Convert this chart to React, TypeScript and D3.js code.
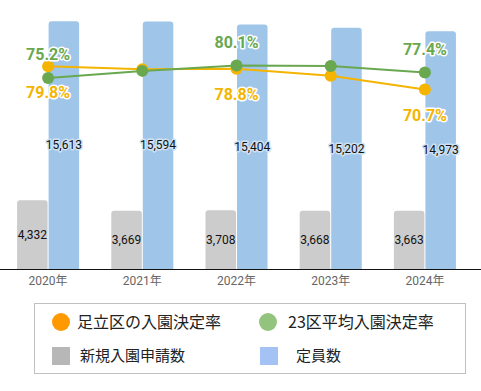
import { useEffect, useRef } from 'react'
import * as d3 from 'd3'

const years = ['2020年', '2021年', '2022年', '2023年', '2024年']
const applicants = [4332, 3669, 3708, 3668, 3663]
const capacity = [15613, 15594, 15404, 15202, 14973]
const adachiRate = [79.8, 78.6, 78.8, 76.1, 70.7]
const wardAvgRate = [75.2, 78.0, 80.1, 79.9, 77.4]
const labeledIdx = [0, 2, 4]

const legendItems = [
  { label: '足立区の入園決定率', shape: 'circle', color: '#ff9900' },
  { label: '23区平均入園決定率', shape: 'circle', color: '#93c47d' },
  { label: '新規入園申請数', shape: 'square', color: '#b7b7b7' },
  { label: '定員数', shape: 'square', color: '#a4c2f4' },
]

const FONT = "Roboto, 'Noto Sans CJK JP', sans-serif"

// bar with rounded top corners
function topRounded(x: number, y: number, w: number, h: number, r: number) {
  r = Math.min(r, w / 2, h)
  return `M${x},${y + h}V${y + r}Q${x},${y} ${x + r},${y}H${x + w - r}Q${x + w},${y} ${x + w},${y + r}V${y + h}Z`
}

export default function App() {
  const ref = useRef<HTMLDivElement>(null)

  useEffect(() => {
    document.body.style.margin = '0'
    const width = 481
    const height = 391
    const baseY = 269

    d3.select(ref.current).selectAll('*').remove()
    const svg = d3.select(ref.current)
      .append('svg')
      .attr('width', width)
      .attr('height', height)
      .style('display', 'block')
      .style('font-family', FONT)

    const x0 = d3.scaleBand().domain(years).range([1, 472])
    const x1 = d3.scaleBand().domain(['app', 'cap']).range([0, x0.bandwidth()])
      .paddingInner(0.032).paddingOuter(0.51)
    const yBar = d3.scaleLinear().domain([0, 16000]).range([baseY, 15])
    const yPct = d3.scaleLinear().domain([0, 100]).range([baseY, 15])
    const cx = (i: number) => x0(years[i])! + x0.bandwidth() / 2

    // bars
    const groups = svg.append('g').selectAll('g')
      .data(years)
      .join('g')
      .attr('transform', d => `translate(${x0(d)},0)`)

    groups.append('path')
      .attr('fill', '#cccccc')
      .attr('d', (_, i) => topRounded(x1('app')!, yBar(applicants[i]), x1.bandwidth(), baseY - yBar(applicants[i]), 3))
    groups.append('path')
      .attr('fill', '#9fc5e8')
      .attr('d', (_, i) => topRounded(x1('cap')!, yBar(capacity[i]), x1.bandwidth(), baseY - yBar(capacity[i]), 3))

    groups.append('text')
      .attr('x', x1('app')! + x1.bandwidth() / 2)
      .attr('y', (_, i) => (yBar(applicants[i]) + baseY) / 2)
      .attr('dy', '0.35em')
      .attr('text-anchor', 'middle')
      .style('font-size', '12px')
      .style('fill', '#111')
      .text((_, i) => d3.format(',')(applicants[i]))

    groups.append('text')
      .attr('x', x1('cap')! + x1.bandwidth() / 2)
      .attr('y', (_, i) => (yBar(capacity[i]) + baseY) / 2)
      .attr('dy', '0.35em')
      .attr('text-anchor', 'middle')
      .attr('paint-order', 'stroke')
      .attr('stroke', '#cfe2f3')
      .attr('stroke-width', 3)
      .attr('stroke-linejoin', 'round')
      .style('font-size', '12px')
      .style('fill', '#111')
      .text((_, i) => d3.format(',')(capacity[i]))

    // axis
    svg.append('line')
      .attr('x1', 0).attr('x2', width)
      .attr('y1', baseY + 0.5).attr('y2', baseY + 0.5)
      .attr('stroke', '#111')
    svg.append('g').selectAll('text')
      .data(years)
      .join('text')
      .attr('x', (_, i) => cx(i))
      .attr('y', 285)
      .attr('text-anchor', 'middle')
      .style('font-size', '12px')
      .style('fill', '#666')
      .text(d => d)

    // lines
    const series = [
      { values: adachiRate, color: '#f4b400', dy: 26 },
      { values: wardAvgRate, color: '#6aa84f', dy: -23.5 },
    ]
    const line = d3.line<number>().x((_, i) => cx(i)).y(d => yPct(d))

    series.forEach(s => {
      svg.append('path')
        .datum(s.values)
        .attr('d', line)
        .attr('fill', 'none')
        .attr('stroke', s.color)
        .attr('stroke-width', 2)
    })
    series.forEach(s => {
      svg.append('g').selectAll('circle')
        .data(s.values)
        .join('circle')
        .attr('cx', (_, i) => cx(i))
        .attr('cy', d => yPct(d))
        .attr('r', 6)
        .attr('fill', s.color)
    })
    series.forEach(s => {
      svg.append('g').selectAll('text')
        .data(labeledIdx)
        .join('text')
        .attr('x', i => cx(i))
        .attr('y', i => yPct(s.values[i]) + s.dy)
        .attr('dy', '0.35em')
        .attr('text-anchor', 'middle')
        .attr('paint-order', 'stroke')
        .attr('stroke', '#fff')
        .attr('stroke-width', 3)
        .attr('stroke-linejoin', 'round')
        .style('font-size', '16px')
        .style('font-weight', 'bold')
        .style('fill', s.color)
        .text(i => `${s.values[i].toFixed(1)}%`)
    })

    // legend
    svg.append('rect')
      .attr('x', 34.5).attr('y', 303.5)
      .attr('width', 431).attr('height', 70)
      .attr('fill', 'none')
      .attr('stroke', '#c0c0c0')

    const legendPos = [
      { x: 61, y: 322, tx: 77, size: 16 },
      { x: 268, y: 322, tx: 288, size: 16 },
      { x: 61, y: 356, tx: 80, size: 15 },
      { x: 269, y: 356, tx: 296, size: 15 },
    ]
    legendItems.forEach((item, i) => {
      const p = legendPos[i]
      if (item.shape === 'circle') {
        svg.append('circle').attr('cx', p.x).attr('cy', p.y).attr('r', 9).attr('fill', item.color)
      } else {
        svg.append('rect').attr('x', p.x - 9).attr('y', p.y - 9).attr('width', 18).attr('height', 18).attr('fill', item.color)
      }
      svg.append('text')
        .attr('x', p.tx)
        .attr('y', p.y)
        .attr('dy', '0.35em')
        .style('font-family', "'Noto Sans CJK JP', sans-serif")
        .style('font-size', `${p.size}px`)
        .style('fill', '#222')
        .text(item.label)
    })
  }, [])

  return <div ref={ref} />
}
